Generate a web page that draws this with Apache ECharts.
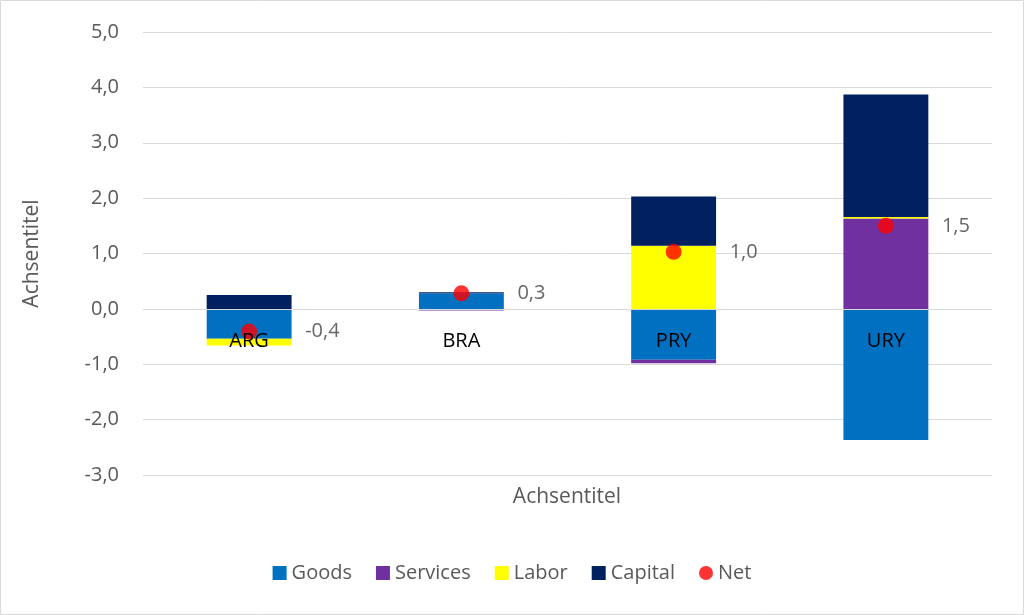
<!DOCTYPE html>
<html>
<head>
<meta charset="utf-8">
<script src="https://cdn.jsdelivr.net/npm/echarts@6/dist/echarts.min.js"></script>
<style>
  html, body { margin: 0; padding: 0; background: #fff; }
  #chart { width: 1024px; height: 615px; }
</style>
</head>
<body>
<div id="chart"></div>
<script>
// Werte
var countries = ['ARG', 'BRA', 'PRY', 'URY'];
var goods = [-0.54, 0.28, -0.92, -2.37];
var services = [0, -0.03, -0.06, 1.63];
var labor = [-0.12, 0, 1.14, 0.03];
var capital = [0.25, 0.02, 0.89, 2.21];
var net = [-0.41, 0.28, 1.03, 1.50];

var font = 'Open Sans';
var grey = '#595959';

function comma(v) {
    return v.toFixed(1).replace('.', ',');
}

function barSeries(name, data, color) {
    return {
        name: name,
        type: 'bar',
        stack: 'total',
        barWidth: '40%',
        data: data,
        itemStyle: { color: color },
        emphasis: { disabled: true }
    };
}

var capitalSeries = barSeries('Capital', capital, '#002060');
// helle Nulllinie ueber den Balken, wie die Achsenlinie im Original
capitalSeries.markLine = {
    silent: true,
    symbol: 'none',
    label: { show: false },
    lineStyle: { color: '#d9d9d9', width: 1, type: 'solid' },
    data: [{ yAxis: 0 }]
};

var option = {
    animation: false,
    textStyle: { fontFamily: font },
    graphic: [{
        type: 'rect',
        shape: { x: 0.5, y: 0.5, width: 1023, height: 614 },
        style: { fill: 'none', stroke: '#d9d9d9', lineWidth: 1 },
        silent: true
    }, {
        // Titel der x-Achse, unter der Zeichenfläche mittig
        type: 'text',
        x: 567,
        y: 497,
        style: {
            text: 'Achsentitel',
            align: 'center',
            verticalAlign: 'middle',
            fontSize: 21,
            fontFamily: font,
            fill: grey
        },
        silent: true
    }],
    grid: { left: 143, right: 32, top: 32, bottom: 140 },
    legend: {
        bottom: 27,
        left: 'center',
        itemWidth: 14,
        itemHeight: 14,
        itemGap: 24,
        textStyle: { fontSize: 20, color: grey, fontFamily: font },
        data: [
            { name: 'Goods', icon: 'rect' },
            { name: 'Services', icon: 'rect' },
            { name: 'Labor', icon: 'rect' },
            { name: 'Capital', icon: 'rect' },
            { name: 'Net', icon: 'circle' }
        ]
    },
    xAxis: {
        type: 'category',
        data: countries,
        z: 10,
        axisLine: { show: false },
        axisTick: { show: false },
        // Beschriftung sitzt wie im Original knapp unter der Nulllinie
        axisLabel: { fontSize: 20, color: '#000', margin: -144, fontFamily: font }
    },
    yAxis: {
        type: 'value',
        min: -3,
        max: 5,
        interval: 1,
        axisLine: { show: false },
        axisTick: { show: false },
        splitLine: { lineStyle: { color: '#d9d9d9', width: 1 } },
        axisLabel: {
            fontSize: 20, color: grey, margin: 24, fontFamily: font,
            formatter: comma
        },
        name: 'Achsentitel',
        nameLocation: 'middle',
        nameGap: 100,
        nameTextStyle: { fontSize: 21, color: grey, fontFamily: font }
    },
    series: [
        barSeries('Goods', goods, '#0070C0'),
        barSeries('Services', services, '#7030A0'),
        barSeries('Labor', labor, '#FFFF00'),
        capitalSeries,
        {
            name: 'Net',
            type: 'scatter',
            data: net,
            symbol: 'circle',
            symbolSize: 16,
            z: 5,
            itemStyle: { color: '#FF0000' },
            label: {
                show: true,
                position: 'right',
                distance: 48,
                fontSize: 20,
                color: '#404040',
                fontFamily: font,
                formatter: function (p) { return comma(p.value); }
            },
            emphasis: { disabled: true }
        }
    ]
};

var chart = echarts.init(document.getElementById('chart'));
chart.setOption(option);
</script>
</body>
</html>
